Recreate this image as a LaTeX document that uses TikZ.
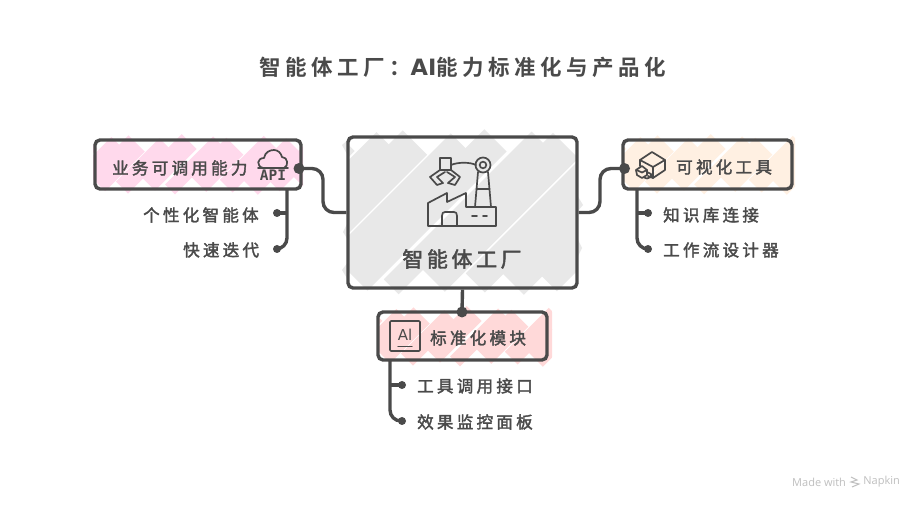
\documentclass[tikz,border=0pt]{standalone}
\usepackage{fontspec}
\setmainfont{Noto Sans CJK SC}
\newfontfamily\cjk[LetterSpace=20,FakeBold=2.2]{Noto Sans CJK SC}
\newfontfamily\cjkm[LetterSpace=17,FakeBold=2.2]{Noto Sans CJK SC}
\newfontfamily\cjkb[LetterSpace=21]{Noto Sans CJK SC Bold}
\newfontfamily\aifont{DejaVu Sans Bold}
\newfontfamily\apifont{DejaVu Sans Mono Bold}
\newfontfamily\wm{Open Sans}
\newfontfamily\wmb{DejaVu Sans}
\usetikzlibrary{calc}
\definecolor{ink}{HTML}{4A4A4A}
\definecolor{cpink}{HTML}{FFD9EC}
\definecolor{cpeach}{HTML}{FFF0E2}
\definecolor{crose}{HTML}{FFD9D9}
\definecolor{cgray}{HTML}{E8E8E8}
% color, x0,y0,x1,y1, stroke width, lower-left cut
\newcommand{\scrib}[7]{%
  \begin{scope}
    \clip (#2,#3) -- (#4,#3) -- (#4,#5) -- ({#2+#7},#5) -- (#2,{#5-#7}) -- cycle;
    \pgfmathsetmacro{\hh}{#5-#3}
    \xdef\curx{\fpeval{#2-\hh}}
    \foreach \i in {0,...,40} {
      \pgfmathsetmacro{\w}{#6*{1,0.75,1.15,0.85,1.05,0.7,1.2,0.9}[mod(\i,8)]}
      \pgfmathsetmacro{\g}{{-1,0.9,-3,-1,-2,1.1,-1,-2}[mod(\i,8)]}
      \pgfmathsetmacro{\ea}{0.6*{3,0,6,2,7,1,5,4,0,6,3}[mod(\i,11)]}
      \pgfmathsetmacro{\eb}{0.6*{1,5,2,7,0,4,6,3,7}[mod(\i,9)]}
      \pgfmathsetmacro{\xs}{\curx+\w*0.7}
      \xdef\curx{\fpeval{\xs+\w*0.7+\g}}
      \draw[#1,line width=\w pt] (\xs,{#5-\w*0.36-\ea}) -- ({\xs+\hh-\w*0.72-\ea-\eb},{#3+\w*0.36+\eb});
    }
  \end{scope}}
\tikzset{
  boxn/.style={draw=ink,line width=3.4pt,rounded corners=5pt,inner sep=0pt},
  conn/.style={draw=ink,line width=3.4pt,rounded corners=11pt},
  dotn/.style={circle,fill=ink,inner sep=0pt,minimum size=#1},
  lab/.style={text=ink,font=\cjk\fontsize{16.5}{18}\selectfont,inner sep=0pt},
  icon/.style={draw=ink,line width=1.7pt,line join=round,line cap=round}
}
\begin{document}
\begin{tikzpicture}[x=1pt,y=-1pt]
\useasboundingbox[fill=white] (0,0) rectangle (924,510);
% scribble fills
\scrib{cgray}{347}{129}{578}{295}{30}{0}
\fill[cgray] (348,140) -- (342,145) -- (348,156) -- cycle;
\fill[cgray] (348,222) -- (343,232) -- (348,240) -- cycle;
\fill[cgray] (348,262) -- (342,270) -- (348,280) -- cycle;
\fill[cgray] (577,195) -- (583,205) -- (577,212) -- cycle;
\fill[cgray] (577,238) -- (582,248) -- (577,258) -- cycle;
\scrib{cpink}{93}{134}{303}{195}{20}{10}
\scrib{cpeach}{622}{134}{795}{195}{20}{8}
\scrib{crose}{378}{306}{552}{367}{20}{10}
% title
\node[text=ink,font=\cjkb\fontsize{21.5}{24}\selectfont,inner sep=0pt] (title) at (462.5,67) {智能体工厂：{\aifont\fontsize{22.5}{24}\selectfont AI}能力标准化与产品化};
% boxes
\node[boxn,minimum width=229pt,minimum height=151pt] (main) at (462.5,212.5) {};
\node[boxn,minimum width=206pt,minimum height=49pt] (biz) at (198,164.5) {};
\node[boxn,minimum width=169pt,minimum height=49pt] (vis) at (707.5,164.5) {};
\node[boxn,minimum width=169pt,minimum height=48pt] (std) at (462.5,336) {};
% labels
\node[text=ink,font=\cjkm\fontsize{21}{24}\selectfont,inner sep=0pt] (mainl) at (462,259) {智能体工厂};
\node[lab,anchor=west] (bizl) at (112,168) {业务可调用能力};
\node[lab,anchor=west] (visl) at (676,167) {可视化工具};
\node[lab,anchor=west] (stdl) at (430,338) {标准化模块};
\node[lab,anchor=west] (b1) at (143,215) {个性化智能体};
\node[lab,anchor=west] (b2) at (183,250) {快速迭代};
\node[lab,anchor=west] (v1) at (663,215) {知识库连接};
\node[lab,anchor=west] (v2) at (663,250) {工作流设计器};
\node[lab,anchor=west] (s1) at (417,386) {工具调用接口};
\node[lab,anchor=west] (s2) at (417,422) {效果监控面板};
% dots
\node[dotn=11pt] (dbiz) at (299,168.5) {};
\node[dotn=11pt] (dvis) at (624.5,168.5) {};
\node[dotn=11pt] (dstd) at (462,312) {};
\node[dotn=8pt] (db1) at (277,213) {};
\node[dotn=8pt] (db2) at (277,249) {};
\node[dotn=8pt] (dv1) at (648,213) {};
\node[dotn=8pt] (dv2) at (648,249) {};
\node[dotn=8pt] (ds1) at (402,385) {};
\node[dotn=8pt] (ds2) at (402,421) {};
% connectors
\draw[conn] (dbiz.center) -- (323,168.5) -- (323,212.5) -- (main.west);
\draw[conn] (dvis.center) -- (600,168.5) -- (600,212.5) -- (main.east);
\draw[draw=ink,line width=3.4pt] (main.south) -- (dstd.center);
\coordinate (cb) at (287,189);
\coordinate (cv) at (637,189);
\coordinate (cs) at (390,360);
\draw[conn] (cb) |- (db2.center);
\draw[draw=ink,line width=3.4pt] (cb |- db1) -- (db1.center);
\draw[conn] (cv) |- (dv2.center);
\draw[draw=ink,line width=3.4pt] (cv |- dv1) -- (dv1.center);
\draw[conn] (cs) |- (ds2.center);
\draw[draw=ink,line width=3.4pt] (cs |- ds1) -- (ds1.center);
% cloud API icon
\draw[icon] (258,168) -- (288,168);
\draw[icon] (263,168) .. controls (256,166) and (257,158) .. (264,158) .. controls (265,152) and (270,150) .. (274,150) .. controls (278,150) and (281,153) .. (282,157) .. controls (288,157) and (289,166) .. (284,168);
\node[text=ink,font=\apifont\fontsize{14.5}{15}\selectfont,inner sep=0pt] (apit) at (273,175.5) {API};
% factory icon
\draw[icon] (440,158) rectangle (451,170);
\draw[icon] (440,170) -- (430,177) -- (437,185) -- (443,183) -- (437,177) -- (445,172);
\draw[icon] (451,170) -- (460,177) -- (455,185) -- (448,183) -- (455,177) -- (447,172);
\draw[icon] (451,165) .. controls (458,162) and (470,162) .. (476,165);
\draw[icon] (483,165) circle (7.5);
\draw[icon] (483,165) circle (3.3);
\draw[icon] (478,172) -- (475,207);
\draw[icon] (488,172) -- (491,207);
\draw[icon] (476.5,189) -- (489.5,189);
\draw[icon] (428,226) -- (428,203) -- (447,193) -- (447,202) -- (466,193) -- (466,207) -- (496,207) -- (496,226) -- cycle;
\draw[icon] (442,226) -- (442,216) .. controls (442,213) and (443,212) .. (445,212) -- (454,212) .. controls (456,212) and (457,213) .. (457,216) -- (457,226);
\draw[icon] (472,216) -- (477,216);
\draw[icon] (483,216) -- (487,216);
% cube icon
\draw[icon] (640,160) -- (652,152) -- (665,160) -- (665,170) -- (653,178) -- (648,176);
\draw[icon] (640,160) -- (653,167) -- (665,160);
\draw[icon] (653,167) -- (653,178);
\draw[icon] (640,160) -- (640,166);
\draw[icon] (642,166) -- (636,170) -- (637,175) -- (642,178) -- (647,175) -- (647,170) -- cycle;
\draw[icon] (636.5,170) -- (642,172.5) -- (647,170);
\draw[icon] (647,172) -- (651,174) -- (651,177) -- (647,178.5) -- (644,177.5);
% AI icon
\draw[icon,rounded corners=1pt] (390,321) rectangle (420,351);
\node[text=ink,font=\wmb\fontsize{15}{16}\selectfont,inner sep=0pt] (ait) at (405,335) {Al};
\draw[icon,line width=1.4pt] (398,346.5) -- (412,346.5);
% watermark
\node[text=black!25,font=\wm\fontsize{11}{12}\selectfont,inner sep=0pt,anchor=west] (wm1) at (792,482) {Made with};
\node[text=black!25,font=\wm\fontsize{11}{12}\selectfont,inner sep=0pt,anchor=east] (wm2) at (900,482) {Napkin};
\draw[black!25,line width=1pt] (851,477) -- (857,480) -- (851,482) -- (859,484) -- (852,487);
\end{tikzpicture}
\end{document}
